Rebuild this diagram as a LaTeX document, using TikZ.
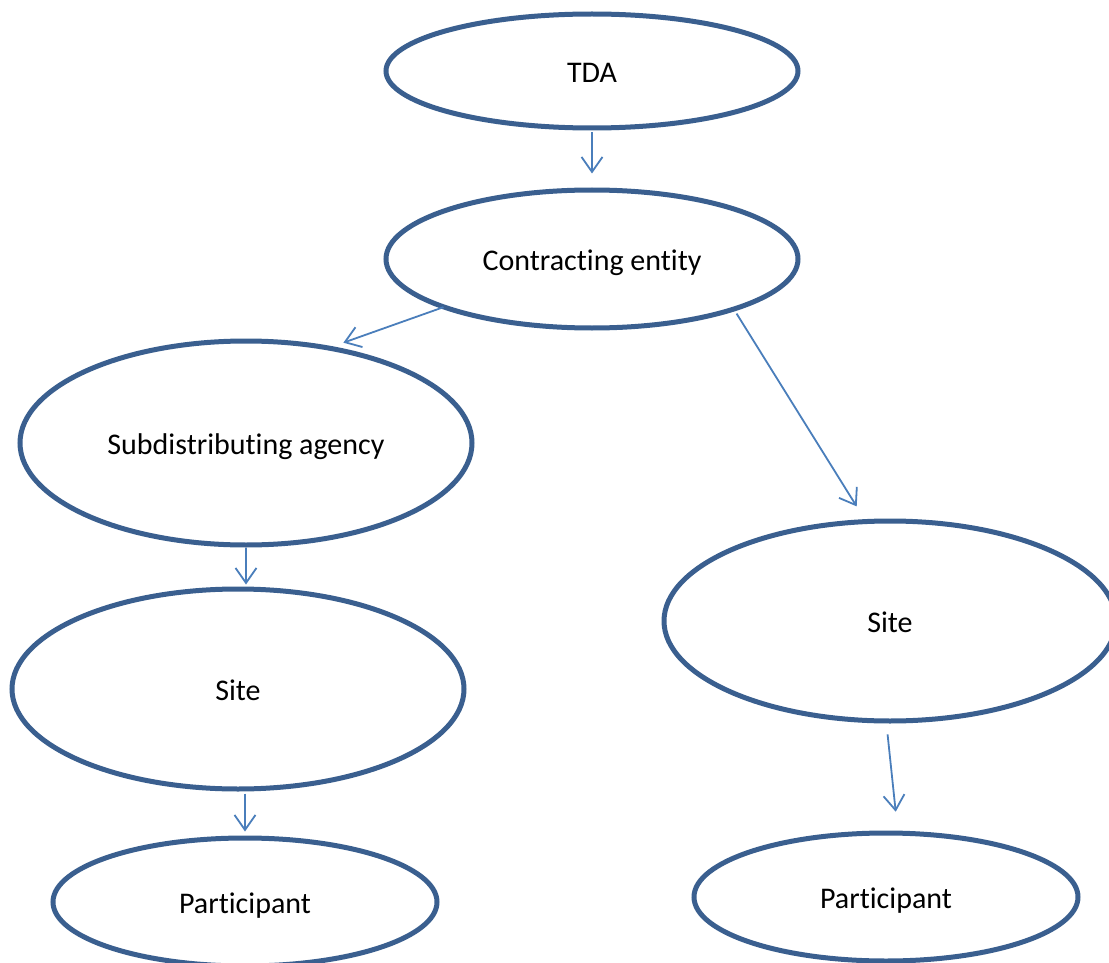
\documentclass[tikz,border=0pt]{standalone}
\usepackage{fontspec}
\setmainfont{Carlito}[Ligatures={NoCommon,NoContextual,NoRare}]
\usetikzlibrary{shapes.geometric,arrows.meta,calc}
\definecolor{outl}{HTML}{3A5F8F}
\definecolor{arrc}{HTML}{4A7EBB}
\newcommand{\nlg}{\kern0pt }
\begin{document}
\begin{tikzpicture}[x=1pt,y=-1pt,
  oval/.style={ellipse,draw=outl,line width=5pt,inner sep=0pt,fill=white,text height=23pt,text depth=0pt,font=\fontsize{30}{36}\selectfont},
  arr/.style={draw=arrc,line width=1.8pt,-{Straight Barb[length=15pt,width=21pt]}}]
\useasboundingbox (0,0) rectangle (1109,963);
\node[oval,minimum width=412pt,minimum height=114pt] (tda) at (592,71) {TDA};
\node[oval,minimum width=412pt,minimum height=138pt] (ce) at (592,259) {Contract\nlg ing enti\nlg ty};
\node[oval,minimum width=452pt,minimum height=204pt] (sub) at (246,443) {Subdistribut\nlg ing agency};
\node[oval,minimum width=452pt,minimum height=200pt] (sl) at (238,689) {Site};
\node[oval,minimum width=384pt,minimum height=128pt] (pl) at (245,902) {Part\nlg icipant};
\node[oval,minimum width=452pt,minimum height=200pt] (sr) at (890,621) {Site};
\node[oval,minimum width=384pt,minimum height=128pt] (pr) at (886,897) {Part\nlg icipant};
\draw[arr,shorten <=2pt,shorten >=14pt] (tda.south) -- (ce.north);
\draw[arr,shorten <=-3pt,shorten >=11pt] (ce.198) -- (sub.48);
\draw[arr,shorten <=3pt,shorten >=15pt] (ce.-20) -- (sr.104);
\draw[arr,shorten >=2pt] (sub.south) -- (sub.south |- sl.north);
\draw[arr,shorten <=2pt,shorten >=4pt] (sl.south -| pl.north) -- (pl.north);
\draw[arr,shorten <=11pt,shorten >=19pt] (sr.-92) -- (pr.80);
\end{tikzpicture}
\end{document}
